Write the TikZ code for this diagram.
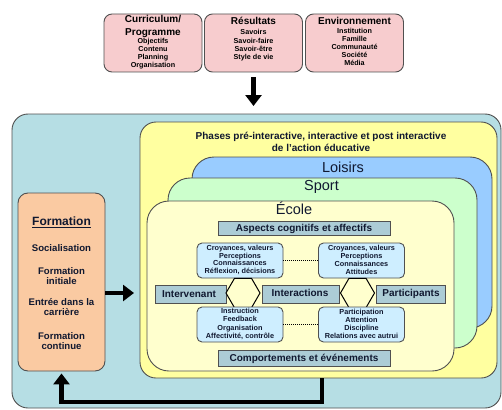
\documentclass[tikz,border=0pt]{standalone}
\usepackage{fontspec}
\setmainfont{Liberation Sans}
\usetikzlibrary{arrows.meta,shapes.geometric,calc}
\definecolor{outerfill}{RGB}{182,222,228}
\definecolor{yelfill}{RGB}{255,255,160}
\definecolor{bluefill}{RGB}{153,204,255}
\definecolor{greenfill}{RGB}{204,255,204}
\definecolor{ecolefill}{RGB}{255,255,206}
\definecolor{cyanfill}{RGB}{206,238,255}
\definecolor{barfill}{RGB}{172,204,214}
\definecolor{pinkfill}{RGB}{247,204,206}
\definecolor{orangefill}{RGB}{250,202,162}
\definecolor{edge}{RGB}{80,80,80}
\definecolor{ink}{RGB}{16,24,48}
\tikzset{
  box/.style={draw=edge, line width=0.9pt, inner sep=0pt},
  topbox/.style={box, fill=pinkfill, rounded corners=8pt, minimum width=98pt, minimum height=58pt},
  bigbox/.style={box, rounded corners=22pt},
  infobox/.style={box, fill=cyanfill, rounded corners=5pt, minimum width=86pt, minimum height=35pt},
  barbox/.style={box, fill=barfill, minimum height=18pt},
  hexa/.style={draw=black, line width=1pt, fill=ecolefill, regular polygon, regular polygon sides=6, minimum size=34pt, inner sep=0pt},
  txt/.style={align=center, inner sep=0pt, text=ink},
  fs/.style 2 args={font=\fontsize{#1}{#2}\selectfont\bfseries},
  fr/.style 2 args={font=\fontsize{#1}{#2}\selectfont},
  bigarrow/.style={line width=4.5pt, -{Triangle[length=11pt,width=16pt]}},
  dotline/.style={line width=1pt, dash pattern=on 1pt off 1pt}
}
\begin{document}
\begin{tikzpicture}[x=1pt,y=-1pt]
\useasboundingbox (0,0) rectangle (502,409);
% top boxes
\node[topbox] (cur) at (153,43) {};
\node[topbox] (res) at (253.5,43) {};
\node[topbox] (env) at (354.5,43) {};
\node[txt, fs={10}{12.5}, text=black] (curT) at (153,26.5) {Curriculum/\\Programme};
\node[txt, fs={7.2}{8}, text=black] (curS) at (153,54) {Objectifs\\Contenu\\Planning\\Organisation};
\node[txt, fs={10}{12.5}, text=black] (resT) at (253.5,21) {Résultats};
\node[txt, fs={7.2}{8.3}, text=black] (resS) at (253.5,45.5) {Savoirs\\Savoir-faire\\Savoir-être\\Style de vie};
\node[txt, fs={10}{12.5}, text=black] (envT) at (354.5,21) {Environnement};
\node[txt, fs={7.2}{8}, text=black] (envS) at (354.5,47) {Institution\\Famille\\Communauté\\Société\\Média};
% outer box
\node[box, fill=outerfill, rounded corners=16pt, minimum width=489pt, minimum height=294pt] (outer) at (256.5,261) {};
\coordinate (topin) at (253.5,106);
\draw[bigarrow] ($(res.south)+(0,5)$) -- (topin);
% yellow box
\node[box, fill=yelfill, rounded corners=16pt, minimum width=357pt, minimum height=256pt] (yel) at (318.5,250) {};
\node[txt, fs={10}{12}] (yelT) at (321,142) {Phases pré-interactive, interactive et post interactive\\de l'action éducative};
% nested
\node[bigbox, fill=bluefill, minimum width=300pt, minimum height=171pt] (loi) at (342,242.5) {};
\node[txt, fr={14.5}{16}] (loiT) at (343,167) {Loisirs};
\node[bigbox, fill=greenfill, minimum width=309pt, minimum height=170pt] (spo) at (322.5,263) {};
\node[txt, fr={14.5}{16}] (spoT) at (321.5,187) {Sport};
\node[bigbox, fill=ecolefill, minimum width=307pt, minimum height=170pt] (eco) at (300.5,286) {};
\node[txt, fr={14.5}{16}] (ecoT) at (294,208) {École};
% inner
\node[box, fill=barfill, minimum width=172pt, minimum height=14pt, txt, fs={10}{12}] (asp) at (304,228.5) {Aspects cognitifs et affectifs};
\node[infobox] (cl) at (240,260.5) {};
\node[txt, fs={7.3}{7.8}] (clT) at (240,260) {Croyances, valeurs\\Perceptions\\Connaissances\\Réflexion, décisions};
\node[infobox] (cr) at (361.5,260.5) {};
\node[txt, fs={7.3}{7.8}] (crT) at (361.5,260) {Croyances, valeurs\\Perceptions\\Connaissances\\Attitudes};
\draw[dotline] (cl.east) -- (cr.west);
\node[barbox, minimum width=71pt] (intv) at (190.5,294) {};
\node[txt, fs={10}{12}] (intvT) at (189,294) {Intervenant};
\node[barbox, minimum width=77pt] (inter) at (300.5,294) {};
\node[txt, fs={10}{12}] (interT) at (300,293) {Interactions};
\node[barbox, minimum width=69pt] (part) at (410.5,294) {};
\node[txt, fs={10}{12}] (partT) at (411,294) {Participants};
\node[hexa] (h1) at (243,293) {};
\node[hexa] (h2) at (357.5,293) {};
\node[infobox] (il) at (240,324.5) {};
\node[txt, fs={7.3}{8.2}] (ilT) at (240,324) {Instruction\\Feedback\\Organisation\\Affectivité, contrôle};
\node[infobox] (ir) at (361.5,324.5) {};
\node[txt, fs={7.3}{8.2}] (irT) at (361.5,324) {Participation\\Attention\\Discipline\\Relations avec autrui};
\draw[dotline] (il.east) -- (ir.west);
\node[box, fill=barfill, minimum width=172pt, minimum height=16pt, txt, fs={10}{12}] (comp) at (304,358.5) {Comportements et événements};
% formation
\node[box, fill=orangefill, rounded corners=10pt, minimum width=87pt, minimum height=178pt] (form) at (61.5,282) {};
\node[txt, fs={12}{14}] (formT) at (61.5,222) {\underline{Formation}};
\node[txt, fs={9.6}{10.5}] (f1) at (61.5,248) {Socialisation};
\node[txt, fs={9.6}{10.5}] (f2) at (61.5,276) {Formation\\initiale};
\node[txt, fs={9.6}{10.5}] (f3) at (61.5,307) {Entrée dans la\\carrière};
\node[txt, fs={9.6}{10.5}] (f4) at (61.5,341) {Formation\\continue};
% arrows
\draw[bigarrow] (form.east |- 0,293) -- (134,293);
\coordinate (loopA) at (322,402);
\coordinate (loopB) at (61.5,402);
\draw[bigarrow] (yel.south -| loopA) -- (loopA) -- (loopB) -- ($(form.south)+(0,2)$);
\end{tikzpicture}
\end{document}
